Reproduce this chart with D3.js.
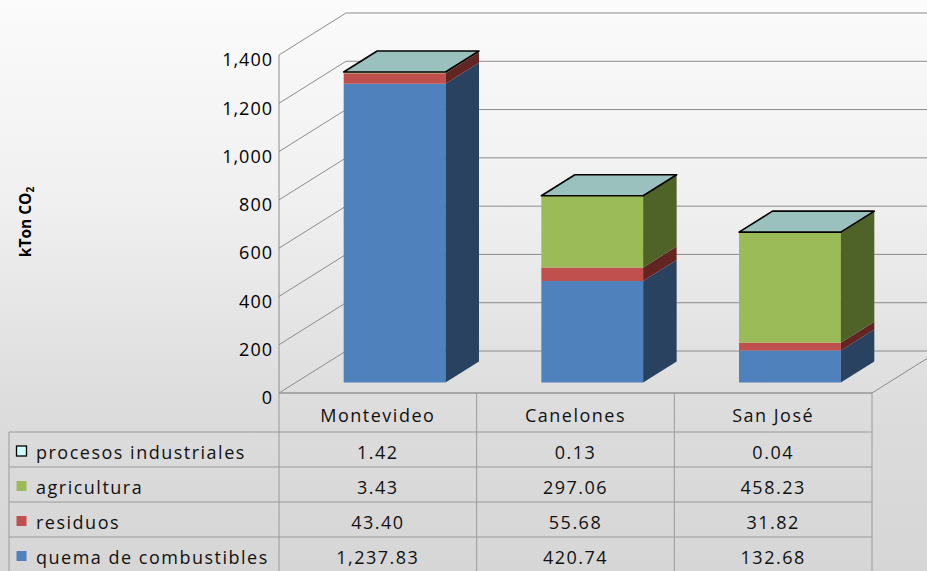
<!DOCTYPE html>
<html>
<head>
<meta charset="utf-8">
<script src="https://cdn.jsdelivr.net/npm/d3@7"></script>
<style>
body { margin: 0; }
svg { display: block; font-family: "Open Sans", sans-serif; }
</style>
</head>
<body>
<svg id="chart" width="927" height="571"></svg>
<script>
// data
var categories = ["Montevideo", "Canelones", "San José"];
var seriesNames = ["quema de combustibles", "residuos", "agricultura", "procesos industriales"];
var quema = [1237.83, 420.74, 132.68];
var residuos = [43.40, 55.68, 31.82];
var agricultura = [3.43, 297.06, 458.23];
var procesos = [1.42, 0.13, 0.04];
var yTicks = [0, 200, 400, 600, 800, 1000, 1200, 1400];

var frontColors = ["#4F81BD", "#C0504D", "#9BBB59", "#CCFFFF"];
var sideColors = ["#284260", "#632523", "#4F6228", "#7fa3a3"];
var topColor = "#9BC1BF";

var seriesValues = [quema, residuos, agricultura, procesos];
var rows = categories.map(function(c, j) {
    var r = {cat: c};
    seriesNames.forEach(function(s, i) { r[s] = seriesValues[i][j]; });
    return r;
});

var W = 927, H = 571;
var plot = {left: 279, right: 872, top: 55, bottom: 393};
var depth = {dx: 67, dy: -42};
var barFront = 0.25, barBack = 0.75;

var svg = d3.select("#chart");

// background gradient
var defs = svg.append("defs");
var grad = defs.append("linearGradient").attr("id", "bg")
    .attr("x1", 0).attr("y1", 0).attr("x2", 0).attr("y2", 1);
grad.append("stop").attr("offset", "0").attr("stop-color", "#fbfbfb");
grad.append("stop").attr("offset", "0.35").attr("stop-color", "#f0f0f0");
grad.append("stop").attr("offset", "0.72").attr("stop-color", "#dcdcdc");
grad.append("stop").attr("offset", "1").attr("stop-color", "#d6d6d6");
svg.append("rect").attr("width", W).attr("height", H).attr("fill", "url(#bg)");

var x = d3.scaleBand().domain(categories).range([plot.left, plot.right]).padding(0);
var y = d3.scaleLinear().domain([0, 1400]).range([plot.bottom, plot.top]);

function proj(px, v, d) {
    return [px + d * depth.dx, y(v) + d * depth.dy];
}

// walls: side wall diagonals and back wall gridlines
var grid = svg.append("g").attr("fill", "none").attr("stroke", "#8c8c8c").attr("stroke-width", 1);
yTicks.forEach(function(t) {
    var a = proj(plot.left, t, 0), b = proj(plot.left, t, 1), c = proj(plot.right + 80, t, 1);
    grid.append("path").attr("d", "M" + a + "L" + b + "L" + c);
});
// floor edges
grid.append("path").attr("d", "M" + proj(plot.left, 0, 0) + "L" + proj(plot.right, 0, 0) + "L" + proj(plot.right, 0, 1));
// front vertical axis
grid.append("line").attr("x1", plot.left).attr("x2", plot.left).attr("y1", y(1400)).attr("y2", plot.bottom);

// y axis labels
var yAxis = d3.axisLeft(y).tickValues(yTicks).tickFormat(d3.format(",")).tickSize(0).tickPadding(6);
var yg = svg.append("g").attr("transform", "translate(" + plot.left + ",0)").call(yAxis);
yg.select(".domain").remove();
yg.selectAll("text").attr("font-size", 18).attr("fill", "#000").attr("letter-spacing", "1px")
    .attr("font-family", "Open Sans, sans-serif").attr("dy", "0.6em");

// y title
var yt = svg.append("text").attr("transform", "translate(31,222) rotate(-90)")
    .attr("text-anchor", "middle").attr("font-size", 15.5).attr("font-weight", "bold").attr("fill", "#000");
yt.append("tspan").text("kTon CO");
yt.append("tspan").attr("font-size", 10).attr("dy", 3).text("2");

// stacked 3d bars
var stack = d3.stack().keys(seriesNames)(rows);
var bw = x.bandwidth() * 0.515;
var inset = (x.bandwidth() - bw) / 2;

function poly(pts) { return "M" + pts.join("L") + "Z"; }

categories.forEach(function(c, j) {
    var g = svg.append("g");
    var bx0 = x(c) + inset, bx1 = bx0 + bw;
    stack.forEach(function(layer, i) {
        var v0 = layer[j][0], v1 = layer[j][1];
        g.append("path").attr("fill", frontColors[i])
            .attr("d", poly([proj(bx0, v0, barFront), proj(bx1, v0, barFront), proj(bx1, v1, barFront), proj(bx0, v1, barFront)]));
        g.append("path").attr("fill", sideColors[i])
            .attr("d", poly([proj(bx1, v0, barFront), proj(bx1, v0, barBack), proj(bx1, v1, barBack), proj(bx1, v1, barFront)]));
    });
    var top = stack[stack.length - 1][j][1];
    g.append("path").attr("fill", topColor).attr("stroke", "#000").attr("stroke-width", 1.6)
        .attr("stroke-linejoin", "round")
        .attr("d", poly([proj(bx0, top, barFront), proj(bx1, top, barFront), proj(bx1, top, barBack), proj(bx0, top, barBack)]));
});

// data table
var table = svg.append("g");
var headTop = plot.bottom, rowTop = 432, rowH = 35, tableLeft = 9;
var lineColor = "#9a9a9a";
var fmt = d3.format(",.2f");
var tableRows = seriesNames.slice().reverse();
var tfont = 18, tspace = "1.5px";

// horizontal lines
table.append("line").attr("x1", plot.left).attr("x2", plot.right).attr("y1", headTop).attr("y2", headTop)
    .attr("stroke", lineColor);
d3.range(tableRows.length + 1).forEach(function(k) {
    var yy = rowTop + k * rowH;
    table.append("line").attr("x1", tableLeft).attr("x2", plot.right).attr("y1", yy).attr("y2", yy)
        .attr("stroke", lineColor);
});
// vertical lines
table.append("line").attr("x1", tableLeft).attr("x2", tableLeft).attr("y1", rowTop).attr("y2", H).attr("stroke", lineColor);
[plot.left].concat(categories.map(function(c) { return x(c) + x.bandwidth(); })).forEach(function(xx) {
    table.append("line").attr("x1", xx).attr("x2", xx).attr("y1", headTop).attr("y2", H).attr("stroke", lineColor);
});

// header
categories.forEach(function(c) {
    table.append("text").attr("x", x(c) + x.bandwidth() / 2).attr("y", 415)
        .attr("text-anchor", "middle").attr("dominant-baseline", "central")
        .attr("font-size", tfont).attr("letter-spacing", tspace).attr("fill", "#111").text(c);
});

tableRows.forEach(function(s, k) {
    var i = seriesNames.indexOf(s);
    var cy = rowTop + k * rowH + rowH / 2 + 2;
    table.append("rect").attr("x", 16.5).attr("y", cy - 5.5).attr("width", 10).attr("height", 10)
        .attr("fill", frontColors[i]).attr("stroke", i === 3 ? "#000" : "none").attr("stroke-width", 1.3);
    table.append("text").attr("x", 36).attr("y", cy).attr("dominant-baseline", "central")
        .attr("font-size", tfont).attr("letter-spacing", tspace).attr("fill", "#111").text(s);
    categories.forEach(function(c, j) {
        table.append("text").attr("x", x(c) + x.bandwidth() / 2).attr("y", cy)
            .attr("text-anchor", "middle").attr("dominant-baseline", "central")
            .attr("font-size", tfont).attr("letter-spacing", tspace).attr("fill", "#111").text(fmt(seriesValues[i][j]));
    });
});
</script>
</body>
</html>
